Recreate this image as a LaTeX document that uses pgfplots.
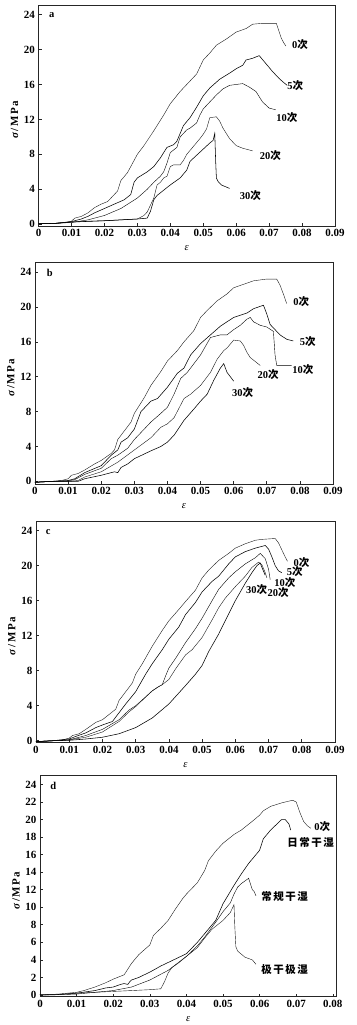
\documentclass[border=0pt]{standalone}
\usepackage{fontspec}
\setmainfont{Liberation Serif}
\newfontfamily\cjk{Noto Sans CJK SC}
\usepackage{pgfplots}
\pgfplotsset{compat=1.18}
\newcommand\ci{{\cjk 次}}
\newcommand\lab[1]{{\cjk #1}}
\tikzset{cl/.style={font=\bfseries\fontsize{10.5}{12}\selectfont, anchor=center, inner sep=0pt}}
\pgfplotsset{
  panel/.style={
    scale only axis,
    xmin=0, xmax=0.09, 
    scaled x ticks=false, scaled y ticks=false,
    xtick={0,0.01,0.02,0.03,0.04,0.05,0.06,0.07,0.08,0.09},
    xticklabels={0,0.01,0.02,0.03,0.04,0.05,0.06,0.07,0.08,0.09},
    ytick={0,4,8,12,16,20,24},
    tick align=inside, tick pos=left,
    major tick length=3pt,
    tick style={black!85, line width=0.6pt},
    axis line style={black!85, line width=0.7pt},
    ticklabel style={font=\bfseries\fontsize{11}{12}\selectfont},
    /pgf/number format/assume math mode=true,
    xlabel={\itshape ε},
    ylabel={\bfseries\textit{σ}\hspace{1.5pt}/\hspace{1.5pt}M\hspace{1.5pt}P\hspace{1.5pt}a},
    every axis x label/.style={at={(axis description cs:0.5,-0.1)}, anchor=center, font=\fontsize{10.5}{12}\selectfont},
    every axis y label/.style={at={(axis description cs:-0.081,0.48)}, rotate=90, anchor=center, font=\fontsize{11}{12}\selectfont},
    cycle list={{black!90, line width=0.55pt, mark=none}},
    clip=false,
  },
}
\begin{document}
\begin{tikzpicture}
\path[use as bounding box] (0,0) rectangle (356pt,1025pt);
% ---------------- panel a
\begin{axis}[panel, at={(38.5pt,799pt)}, anchor=south west, width=296.5pt, height=221pt, ymin=-0.2, ymax=25.1]
\addplot coordinates {(0,0.05)(0.005,0.1)(0.008,0.2)(0.01,0.35)(0.011,0.7)(0.013,0.9)(0.015,1.3)(0.017,1.9)(0.019,2.3)(0.021,2.6)(0.023,3.4)(0.024,3.8)(0.025,5.0)(0.027,5.9)(0.028,6.6)(0.03,8.0)(0.032,9.0)(0.035,10.7)(0.038,12.5)(0.04,13.8)(0.043,15.2)(0.045,16.0)(0.048,17.2)(0.05,18.8)(0.052,19.6)(0.054,20.5)(0.057,21.2)(0.06,22.0)(0.063,22.4)(0.065,22.9)(0.068,23.0)(0.0722,23.0)(0.0729,22.2)(0.0737,21.3)(0.0744,20.8)(0.0751,20.4)};
\addplot coordinates {(0,0.05)(0.005,0.1)(0.01,0.3)(0.013,0.6)(0.015,0.9)(0.017,1.3)(0.02,1.8)(0.023,2.3)(0.026,2.8)(0.028,3.4)(0.029,4.8)(0.03,5.3)(0.033,6.0)(0.035,6.6)(0.037,7.6)(0.039,8.8)(0.041,9.1)(0.042,9.5)(0.043,10.4)(0.044,11.3)(0.046,12.2)(0.048,13.4)(0.05,14.7)(0.052,15.6)(0.055,16.6)(0.058,17.3)(0.06,17.8)(0.062,18.2)(0.063,18.8)(0.065,19.0)(0.067,19.3)(0.069,18.4)(0.071,17.5)(0.073,16.7)(0.0745,16.2)(0.0755,15.9)};
\addplot coordinates {(0,0.05)(0.005,0.1)(0.01,0.2)(0.015,0.5)(0.02,1.0)(0.025,1.8)(0.03,3.0)(0.033,4.0)(0.035,4.8)(0.037,5.5)(0.038,6.0)(0.039,7.0)(0.04,8.2)(0.042,8.8)(0.043,10.0)(0.045,10.8)(0.046,11.0)(0.048,11.6)(0.049,12.5)(0.05,13.2)(0.052,14.0)(0.054,14.8)(0.056,15.5)(0.058,15.9)(0.06,16.0)(0.062,16.1)(0.064,15.7)(0.066,15.2)(0.068,14.0)(0.07,13.3)(0.072,13.1)};
\addplot coordinates {(0,0.05)(0.005,0.1)(0.01,0.25)(0.015,0.35)(0.02,0.4)(0.025,0.5)(0.03,0.6)(0.031,0.8)(0.032,1.0)(0.033,1.4)(0.034,2.2)(0.035,3.0)(0.036,4.5)(0.037,4.8)(0.038,5.3)(0.039,5.5)(0.04,6.6)(0.041,6.8)(0.043,6.8)(0.044,7.3)(0.045,8.0)(0.047,8.9)(0.049,9.8)(0.05,10.3)(0.051,10.9)(0.052,12.2)(0.054,12.3)(0.055,11.8)(0.056,11.0)(0.058,9.8)(0.06,9.0)(0.062,8.7)(0.065,8.4)};
\addplot coordinates {(0,0.05)(0.005,0.1)(0.01,0.25)(0.02,0.4)(0.03,0.6)(0.033,0.7)(0.034,1.5)(0.035,2.8)(0.036,3.3)(0.038,3.9)(0.04,4.5)(0.043,5.3)(0.045,6.2)(0.046,7.2)(0.048,7.9)(0.05,8.6)(0.052,9.3)(0.053,9.6)(0.0535,10.4)(0.0538,7.0)(0.054,5.3)(0.0545,4.9)(0.0555,4.5)(0.058,4.1)};
\node[cl] at (axis cs:0.004,24.0) {a};
\node[cl] at (axis cs:0.0794,20.55) {0\ci};
\node[cl] at (axis cs:0.0779,15.85) {5\ci};
\node[cl] at (axis cs:0.0754,12.25) {10\ci};
\node[cl] at (axis cs:0.0704,7.9) {20\ci};
\node[cl] at (axis cs:0.0643,3.3) {30\ci};
\end{axis}
% ---------------- panel b
\begin{axis}[panel, at={(35pt,541pt)}, anchor=south west, width=298pt, height=221.5pt, ymin=-0.3, ymax=25.1]
\addplot coordinates {(0,-0.1)(0.005,0)(0.008,0.1)(0.01,0.3)(0.011,0.7)(0.013,0.9)(0.015,1.3)(0.018,2.0)(0.02,2.4)(0.023,3.2)(0.024,3.6)(0.025,4.8)(0.027,5.8)(0.029,6.8)(0.03,7.8)(0.033,9.6)(0.035,11.0)(0.038,12.6)(0.04,13.8)(0.043,15.0)(0.045,16.0)(0.048,17.3)(0.05,18.8)(0.052,19.6)(0.055,20.7)(0.058,21.5)(0.06,22.2)(0.063,22.6)(0.066,23.0)(0.07,23.2)(0.073,23.2)(0.074,22.5)(0.075,21.5)(0.076,20.4)};
\addplot coordinates {(0,-0.1)(0.005,0)(0.01,0.1)(0.012,0.3)(0.015,1.0)(0.02,1.8)(0.023,3.0)(0.025,3.6)(0.026,4.5)(0.028,5.0)(0.03,6.0)(0.032,8.0)(0.033,8.4)(0.035,9.2)(0.037,9.5)(0.04,10.8)(0.043,12.4)(0.045,13.0)(0.047,14.5)(0.05,15.8)(0.053,16.8)(0.056,17.8)(0.06,18.8)(0.064,19.3)(0.066,19.8)(0.069,20.2)(0.07,19.2)(0.071,18.0)(0.072,17.6)(0.074,16.8)(0.076,16.3)(0.078,16.1)};
\addplot coordinates {(0,-0.1)(0.005,0)(0.01,0.05)(0.012,0.2)(0.015,0.8)(0.02,1.5)(0.023,2.6)(0.025,3.0)(0.028,3.8)(0.03,4.8)(0.032,5.6)(0.035,6.8)(0.038,7.8)(0.04,8.5)(0.042,10.0)(0.044,11.8)(0.046,12.5)(0.048,13.5)(0.05,14.5)(0.053,16.5)(0.056,16.8)(0.058,16.8)(0.06,17.4)(0.062,17.9)(0.064,18.6)(0.065,18.8)(0.066,18.3)(0.068,17.9)(0.07,17.7)(0.072,17.2)(0.0725,14.5)(0.073,13.3)(0.0775,13.3)};
\addplot coordinates {(0,-0.1)(0.005,0)(0.01,0)(0.013,0.1)(0.015,0.5)(0.02,1.1)(0.025,2.2)(0.03,3.6)(0.035,5.0)(0.038,6.2)(0.04,6.6)(0.042,7.3)(0.045,9.5)(0.047,10.0)(0.05,11.0)(0.053,12.5)(0.055,14.0)(0.057,15.0)(0.058,15.3)(0.06,16.2)(0.062,16.1)(0.063,15.6)(0.064,14.8)(0.065,14.2)(0.066,13.9)(0.068,13.3)};
\addplot coordinates {(0,-0.1)(0.005,0)(0.01,0)(0.013,0)(0.015,0.3)(0.02,0.7)(0.024,1.1)(0.025,1.0)(0.026,1.6)(0.028,2.0)(0.03,2.6)(0.035,3.5)(0.038,4.0)(0.04,4.5)(0.042,5.3)(0.045,7.0)(0.048,8.3)(0.05,9.2)(0.052,10.0)(0.054,11.6)(0.056,13.0)(0.057,13.5)(0.058,12.5)(0.059,12.0)(0.06,11.5)};
\node[cl] at (axis cs:0.0045,23.9) {b};
\node[cl] at (axis cs:0.0804,20.6) {0\ci};
\node[cl] at (axis cs:0.0824,16.0) {5\ci};
\node[cl] at (axis cs:0.0809,12.85) {10\ci};
\node[cl] at (axis cs:0.0704,12.3) {20\ci};
\node[cl] at (axis cs:0.0627,10.2) {30\ci};
\end{axis}
% ---------------- panel c
\begin{axis}[panel, at={(36pt,282.5pt)}, anchor=south west, width=299pt, height=221.5pt, ymin=-0.2, ymax=25.1]
\addplot coordinates {(0,-0.1)(0.005,0)(0.008,0.1)(0.01,0.3)(0.011,0.6)(0.013,0.8)(0.015,1.3)(0.018,2.1)(0.02,2.4)(0.022,3.0)(0.024,3.6)(0.025,4.6)(0.027,5.6)(0.029,6.6)(0.03,7.6)(0.032,8.8)(0.035,10.8)(0.038,12.6)(0.04,13.7)(0.043,15.0)(0.045,15.9)(0.048,17.2)(0.05,18.6)(0.052,19.5)(0.055,20.6)(0.058,21.4)(0.06,22.0)(0.063,22.5)(0.066,22.9)(0.068,23.0)(0.072,23.1)(0.073,22.6)(0.074,21.8)(0.075,21.0)(0.0757,20.5)};
\addplot coordinates {(0,-0.1)(0.005,0)(0.01,0.2)(0.012,0.5)(0.015,0.9)(0.018,1.5)(0.02,1.8)(0.023,2.2)(0.025,3.2)(0.027,4.2)(0.03,5.6)(0.033,7.6)(0.035,8.8)(0.038,10.4)(0.04,11.6)(0.043,13.0)(0.045,14.4)(0.048,15.8)(0.05,17.0)(0.053,18.2)(0.055,18.8)(0.058,20.2)(0.06,21.0)(0.063,21.6)(0.066,22.0)(0.069,22.3)(0.07,21.9)(0.071,21.0)(0.072,20.0)(0.073,19.4)(0.074,19.2)};
\addplot coordinates {(0,-0.1)(0.005,0)(0.01,0.1)(0.015,0.6)(0.02,1.3)(0.025,2.4)(0.028,3.5)(0.03,4.0)(0.033,5.0)(0.035,5.7)(0.037,6.2)(0.038,6.4)(0.039,7.4)(0.04,8.3)(0.042,9.4)(0.045,11.2)(0.048,12.8)(0.05,14.0)(0.053,16.0)(0.055,17.3)(0.058,18.6)(0.06,19.3)(0.063,20.2)(0.066,20.9)(0.0675,21.4)(0.069,20.8)(0.07,19.6)(0.0705,18.4)};
\addplot coordinates {(0,-0.1)(0.005,0)(0.01,0.1)(0.015,0.4)(0.02,1.0)(0.025,2.2)(0.028,3.3)(0.03,3.9)(0.033,5.0)(0.035,5.7)(0.037,6.2)(0.038,6.4)(0.04,7.0)(0.042,8.2)(0.045,9.8)(0.047,10.4)(0.05,11.8)(0.053,13.8)(0.055,15.2)(0.057,16.3)(0.06,17.6)(0.063,18.8)(0.065,19.8)(0.067,20.4)(0.068,20.1)(0.069,19.2)(0.0695,18.6)};
\addplot coordinates {(0,-0.1)(0.005,0)(0.01,0.05)(0.015,0.2)(0.02,0.4)(0.025,0.8)(0.03,1.5)(0.035,2.6)(0.04,4.2)(0.045,6.3)(0.048,7.6)(0.05,8.6)(0.052,10.2)(0.055,12.2)(0.058,14.5)(0.06,16.0)(0.063,18.0)(0.065,19.2)(0.0665,20.0)(0.0675,20.3)(0.068,19.8)(0.069,18.9)};
\node[cl] at (axis cs:0.0037,23.85) {c};
\node[cl] at (axis cs:0.0799,20.4) {0\ci};
\node[cl] at (axis cs:0.0779,19.3) {5\ci};
\node[cl] at (axis cs:0.0749,18.1) {10\ci};
\node[cl] at (axis cs:0.0729,16.9) {20\ci};
\node[cl] at (axis cs:0.0664,17.3) {30\ci};
\end{axis}
% ---------------- panel d
\begin{axis}[panel, at={(40pt,28.3pt)}, anchor=south west, width=296.5pt, height=221pt, ymin=-0.2, ymax=25,
  xmax=0.081,
  xtick={0,0.01,0.02,0.03,0.04,0.05,0.06,0.07,0.08},
  xticklabels={0,0.01,0.02,0.03,0.04,0.05,0.06,0.07,0.08},
  ytick={0,2,4,6,8,10,12,14,16,18,20,22,24}]
\addplot coordinates {(0,0)(0.005,0.1)(0.01,0.3)(0.012,0.5)(0.015,0.9)(0.018,1.4)(0.02,1.8)(0.023,2.3)(0.025,3.6)(0.027,4.6)(0.03,5.7)(0.031,6.8)(0.033,7.6)(0.035,8.5)(0.037,9.8)(0.039,11.0)(0.04,11.5)(0.043,12.8)(0.045,14.2)(0.046,15.3)(0.048,16.4)(0.05,17.3)(0.053,18.3)(0.055,18.8)(0.058,19.8)(0.06,20.5)(0.061,21.0)(0.063,21.5)(0.066,21.9)(0.069,22.2)(0.07,22.0)(0.071,20.8)(0.072,19.8)(0.073,19.3)(0.074,19.0)};
\addplot coordinates {(0,0)(0.005,0.05)(0.01,0.2)(0.015,0.5)(0.018,0.8)(0.02,0.9)(0.022,1.2)(0.023,1.3)(0.024,1.2)(0.0245,1.5)(0.025,1.7)(0.027,2.0)(0.028,2.2)(0.03,2.6)(0.033,3.3)(0.035,3.7)(0.038,4.3)(0.04,4.7)(0.043,6.0)(0.045,7.0)(0.048,8.5)(0.05,10.4)(0.053,12.5)(0.055,13.8)(0.057,15.0)(0.06,16.5)(0.061,17.8)(0.063,18.8)(0.065,19.6)(0.066,20.0)(0.067,20.0)(0.068,19.5)(0.0685,18.8)};
\addplot coordinates {(0,0)(0.005,0.02)(0.01,0.1)(0.02,0.5)(0.025,0.9)(0.03,1.7)(0.035,2.8)(0.04,4.4)(0.043,5.6)(0.045,6.6)(0.048,8.3)(0.05,9.5)(0.052,10.5)(0.053,11.5)(0.054,12.3)(0.055,12.7)(0.056,13.0)(0.057,13.3)(0.058,12.0)(0.0585,11.8)(0.059,11.3)};
\addplot coordinates {(0,0)(0.005,0.05)(0.01,0.2)(0.02,0.4)(0.03,0.6)(0.033,0.7)(0.034,1.5)(0.035,2.5)(0.036,3.1)(0.038,3.7)(0.04,4.4)(0.043,5.4)(0.045,6.5)(0.047,7.5)(0.05,8.5)(0.052,9.4)(0.053,10.3)(0.0532,8.0)(0.0535,5.5)(0.054,5.0)(0.056,4.3)(0.058,4.0)(0.059,3.5)};
\node[cl] at (axis cs:0.0036,23.8) {d};
\node[cl] at (axis cs:0.0771,19.2) {0\ci};
\node[cl] at (axis cs:0.0739,17.4) {\lab{日\hspace{1.5pt}常\hspace{1.5pt}干\hspace{1.5pt}湿}};
\node[cl] at (axis cs:0.0668,11.2) {\lab{常\hspace{1.5pt}规\hspace{1.5pt}干\hspace{1.5pt}湿}};
\node[cl] at (axis cs:0.0668,2.9) {\lab{极\hspace{1.5pt}干\hspace{1.5pt}极\hspace{1.5pt}湿}};
\end{axis}
\end{tikzpicture}
\end{document}
